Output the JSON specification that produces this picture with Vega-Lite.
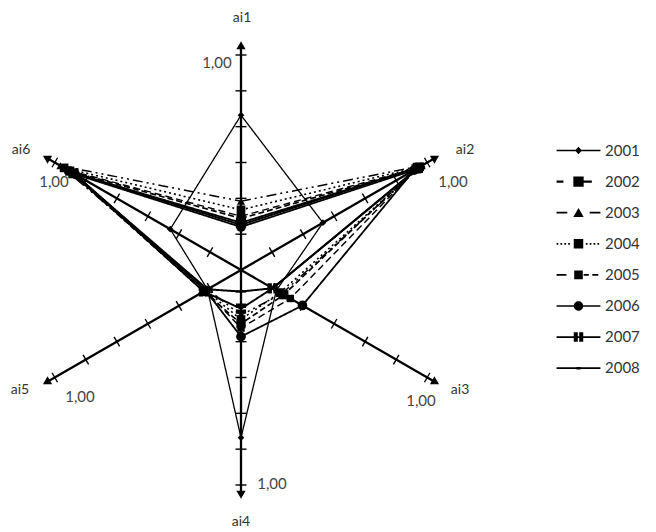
{
  "$schema": "https://vega.github.io/schema/vega-lite/v6.json",
  "width": 656,
  "height": 532,
  "autosize": "none",
  "padding": 0,
  "background": "white",
  "config": {"view": {"stroke": null}, "font": "Lato"},
  "datasets": {
    "series": [
      {"year": "2001", "axis": "ai1", "value": 0.72},
      {"year": "2001", "axis": "ai2", "value": 0.44},
      {"year": "2001", "axis": "ai3", "value": 0.19},
      {"year": "2001", "axis": "ai4", "value": 0.78},
      {"year": "2001", "axis": "ai5", "value": 0.18},
      {"year": "2001", "axis": "ai6", "value": 0.38},
      {"year": "2002", "axis": "ai1", "value": 0.25},
      {"year": "2002", "axis": "ai2", "value": 0.95},
      {"year": "2002", "axis": "ai3", "value": 0.265},
      {"year": "2002", "axis": "ai4", "value": 0.27},
      {"year": "2002", "axis": "ai5", "value": 0.19},
      {"year": "2002", "axis": "ai6", "value": 0.93},
      {"year": "2003", "axis": "ai1", "value": 0.32},
      {"year": "2003", "axis": "ai2", "value": 0.97},
      {"year": "2003", "axis": "ai3", "value": 0.22},
      {"year": "2003", "axis": "ai4", "value": 0.21},
      {"year": "2003", "axis": "ai5", "value": 0.18},
      {"year": "2003", "axis": "ai6", "value": 0.97},
      {"year": "2004", "axis": "ai1", "value": 0.28},
      {"year": "2004", "axis": "ai2", "value": 0.96},
      {"year": "2004", "axis": "ai3", "value": 0.21},
      {"year": "2004", "axis": "ai4", "value": 0.23},
      {"year": "2004", "axis": "ai5", "value": 0.19},
      {"year": "2004", "axis": "ai6", "value": 0.95},
      {"year": "2005", "axis": "ai1", "value": 0.24},
      {"year": "2005", "axis": "ai2", "value": 0.94},
      {"year": "2005", "axis": "ai3", "value": 0.23},
      {"year": "2005", "axis": "ai4", "value": 0.25},
      {"year": "2005", "axis": "ai5", "value": 0.2},
      {"year": "2005", "axis": "ai6", "value": 0.92},
      {"year": "2006", "axis": "ai1", "value": 0.2},
      {"year": "2006", "axis": "ai2", "value": 0.93},
      {"year": "2006", "axis": "ai3", "value": 0.33},
      {"year": "2006", "axis": "ai4", "value": 0.31},
      {"year": "2006", "axis": "ai5", "value": 0.19},
      {"year": "2006", "axis": "ai6", "value": 0.89},
      {"year": "2007", "axis": "ai1", "value": 0.22},
      {"year": "2007", "axis": "ai2", "value": 0.95},
      {"year": "2007", "axis": "ai3", "value": 0.17},
      {"year": "2007", "axis": "ai4", "value": 0.18},
      {"year": "2007", "axis": "ai5", "value": 0.2},
      {"year": "2007", "axis": "ai6", "value": 0.9},
      {"year": "2008", "axis": "ai1", "value": 0.21},
      {"year": "2008", "axis": "ai2", "value": 0.96},
      {"year": "2008", "axis": "ai3", "value": 0.17},
      {"year": "2008", "axis": "ai4", "value": 0.1},
      {"year": "2008", "axis": "ai5", "value": 0.18},
      {"year": "2008", "axis": "ai6", "value": 0.91}
    ],
    "axes": [
      {"axis": "ai1", "ticks": [1, 2, 3, 4, 5, 6]},
      {"axis": "ai2", "ticks": [1, 2, 3, 4, 5, 6]},
      {"axis": "ai3", "ticks": [1, 2, 3, 4, 5, 6]},
      {"axis": "ai4", "ticks": [1, 2, 3, 4, 5, 6]},
      {"axis": "ai5", "ticks": [1, 2, 3, 4, 5, 6]},
      {"axis": "ai6", "ticks": [1, 2, 3, 4, 5, 6]}
    ]
  },
  "encoding": {
    "x": {"field": "x", "type": "quantitative", "scale": {"domain": [-1.1209, 1.9302], "nice": false, "zero": false}, "axis": null},
    "y": {"field": "y", "type": "quantitative", "scale": {"domain": [-1.2186, 1.2558], "nice": false, "zero": false}, "axis": null}
  },
  "resolve": {"scale": {"shape": "independent", "size": "independent"}},
  "layer": [
    {
      "data": {"name": "axes"},
      "transform": [
        {"calculate": "indexof(['ai1','ai2','ai3','ai4','ai5','ai6'], datum.axis)", "as": "idx"},
        {"calculate": "PI/2 - datum.idx*PI/3", "as": "ang"},
        {"calculate": "0", "as": "x"},
        {"calculate": "0", "as": "y"},
        {"calculate": "1.04*cos(datum.ang)", "as": "x2"},
        {"calculate": "1.04*sin(datum.ang)", "as": "y2"}
      ],
      "mark": {"type": "rule", "color": "black", "strokeWidth": 2.3},
      "encoding": {"x2": {"field": "x2"}, "y2": {"field": "y2"}}
    },
    {
      "data": {"name": "axes"},
      "transform": [
        {"calculate": "indexof(['ai1','ai2','ai3','ai4','ai5','ai6'], datum.axis)", "as": "idx"},
        {"calculate": "PI/2 - datum.idx*PI/3", "as": "ang"},
        {"calculate": "1.045*cos(datum.ang)", "as": "x"},
        {"calculate": "1.045*sin(datum.ang)", "as": "y"},
        {"calculate": "datum.idx*60", "as": "rot"}
      ],
      "mark": {"type": "point", "shape": "triangle-up", "filled": true, "color": "black", "size": 85, "opacity": 1},
      "encoding": {"angle": {"field": "rot", "type": "quantitative", "scale": null}}
    },
    {
      "data": {"name": "axes"},
      "transform": [
        {"flatten": ["ticks"]},
        {"calculate": "indexof(['ai1','ai2','ai3','ai4','ai5','ai6'], datum.axis)", "as": "idx"},
        {"calculate": "PI/2 - datum.idx*PI/3", "as": "ang"},
        {"calculate": "datum.ticks/6*cos(datum.ang)", "as": "x"},
        {"calculate": "datum.ticks/6*sin(datum.ang)", "as": "y"},
        {"calculate": "datum.idx*60", "as": "rot"}
      ],
      "mark": {"type": "point", "shape": "M-1,0H1", "filled": false, "stroke": "black", "strokeWidth": 1.4, "size": 121, "opacity": 1},
      "encoding": {"angle": {"field": "rot", "type": "quantitative", "scale": null}}
    },
    {
      "data": {"name": "series"},
      "transform": [
        {"calculate": "indexof(['ai1','ai2','ai3','ai4','ai5','ai6'], datum.axis)", "as": "idx"},
        {"calculate": "PI/2 - datum.idx*PI/3", "as": "ang"},
        {"calculate": "datum.value*cos(datum.ang)", "as": "x"},
        {"calculate": "datum.value*sin(datum.ang)", "as": "y"}
      ],
      "mark": {"type": "line", "interpolate": "linear-closed", "color": "black"},
      "encoding": {
        "detail": {"field": "year", "type": "nominal"},
        "order": {"field": "idx", "type": "quantitative"},
        "strokeDash": {"field": "year", "type": "nominal", "legend": null,
          "scale": {"domain": ["2001", "2002", "2003", "2004", "2005", "2006", "2007", "2008"],
            "range": [[1, 0], [7, 4], [10, 4, 2, 4, 2, 4], [2, 3], [6, 3], [1, 0], [1, 0], [1, 0]]}},
        "strokeWidth": {"field": "year", "type": "ordinal", "legend": null,
          "scale": {"domain": ["2001", "2002", "2003", "2004", "2005", "2006", "2007", "2008"],
            "range": [1.3, 2, 1.7, 2.2, 2, 2.2, 2.2, 1.5]}}
      }
    },
    {
      "data": {"name": "series"},
      "transform": [
        {"calculate": "indexof(['ai1','ai2','ai3','ai4','ai5','ai6'], datum.axis)", "as": "idx"},
        {"calculate": "PI/2 - datum.idx*PI/3", "as": "ang"},
        {"calculate": "datum.value*cos(datum.ang)", "as": "x"},
        {"calculate": "datum.value*sin(datum.ang)", "as": "y"}
      ],
      "mark": {"type": "point", "filled": true, "color": "black", "opacity": 1},
      "encoding": {
        "shape": {"field": "year", "type": "nominal", "legend": null,
          "scale": {"domain": ["2001", "2002", "2003", "2004", "2005", "2006", "2007", "2008"],
            "range": ["diamond", "square", "triangle-up", "square", "square", "circle",
              "M-1,-1H-0.15V-0.15H-1ZM0.15,-1H1V-0.15H0.15ZM-1,0.15H-0.15V1H-1ZM0.15,0.15H1V1H0.15Z",
              "M-1,-0.2H1V0.2H-1Z"]}},
        "size": {"field": "year", "type": "ordinal", "legend": null,
          "scale": {"domain": ["2001", "2002", "2003", "2004", "2005", "2006", "2007", "2008"],
            "range": [45, 115, 65, 75, 60, 80, 85, 60]}}
      }
    },
    {
      "data": {"name": "series"},
      "transform": [
        {"filter": "datum.year == 'none'"},
        {"calculate": "0", "as": "x"},
        {"calculate": "0", "as": "y"}
      ],
      "mark": {"type": "point", "filled": true, "fill": "black", "size": 296, "opacity": 1},
      "encoding": {
        "shape": {"field": "year", "type": "nominal",
          "scale": {"domain": ["2001", "2002", "2003", "2004", "2005", "2006", "2007", "2008"],
            "range": [
              "M-2.55,-0.1H2.55V0.1H-2.55ZM0,-0.45L0.4,0L0,0.45L-0.4,0Z",
              "M-2.55,-0.12H-1.75V0.12H-2.55ZM-0.6,-0.6H0.6V0.6H-0.6ZM0.6,-0.12H1.55V0.12H0.6Z",
              "M-2.55,-0.1H-1.3V0.1H-2.55ZM1.3,-0.1H2.55V0.1H1.3ZM0,-0.55L0.6,0.5H-0.6Z",
              "M-2.55,-0.1H-2.35V0.1H-2.55ZM-2.1,-0.1H-1.9V0.1H-2.1ZM-1.65,-0.1H-1.45V0.1H-1.65ZM-1.2,-0.1H-1V0.1H-1.2ZM-0.55,-0.55H0.55V0.55H-0.55ZM0.85,-0.1H1.05V0.1H0.85ZM1.3,-0.1H1.5V0.1H1.3ZM1.75,-0.1H1.95V0.1H1.75ZM2.2,-0.1H2.4V0.1H2.2Z",
              "M-2.55,-0.1H-1.4V0.1H-2.55ZM-0.5,-0.5H0.5V0.5H-0.5ZM0.6,-0.1H1.2V0.1H0.6ZM1.6,-0.1H2.3V0.1H1.6Z",
              "M-2.55,-0.1H2.55V0.1H-2.55ZM-0.55,0A0.55,0.55 0 1,1 0.55,0A0.55,0.55 0 1,1 -0.55,0Z",
              "M-2.55,-0.1H2.55V0.1H-2.55ZM-0.55,-0.55H-0.08V-0.08H-0.55ZM0.08,-0.55H0.55V-0.08H0.08ZM-0.55,0.08H-0.08V0.55H-0.55ZM0.08,0.08H0.55V0.55H0.08Z",
              "M-2.55,-0.1H2.55V0.1H-2.55ZM-0.25,-0.15H0.25V0.15H-0.25Z"
            ]},
          "legend": {"title": null, "orient": "none", "legendX": 569, "legendY": 141, "padding": 0,
            "symbolSize": 296, "symbolFillColor": "black", "symbolOpacity": 1,
            "labelFont": "Lato", "labelFontSize": 15, "labelColor": "#333333", "labelOffset": 17, "rowPadding": 13.1}}
      }
    },
    {
      "data": {"name": "axes"},
      "transform": [
        {"calculate": "indexof(['ai1','ai2','ai3','ai4','ai5','ai6'], datum.axis)", "as": "idx"},
        {"calculate": "[0.005, 1.042, 1.019, 0, -1.028, -1.023][datum.idx]", "as": "x"},
        {"calculate": "[1.172, 0.558, -0.558, -1.172, -0.558, 0.558][datum.idx]", "as": "y"}
      ],
      "mark": {"type": "text", "font": "Lato", "fontSize": 14, "color": "#333333", "align": "center", "baseline": "middle"},
      "encoding": {"text": {"field": "axis"}}
    },
    {
      "data": {"name": "axes"},
      "transform": [
        {"calculate": "indexof(['ai1','ai2','ai3','ai4','ai5','ai6'], datum.axis)", "as": "idx"},
        {"calculate": "[-0.112, 0.986, 0.837, 0.144, -0.749, -0.87][datum.idx]", "as": "x"},
        {"calculate": "[0.963, 0.409, -0.609, -0.995, -0.591, 0.409][datum.idx]", "as": "y"}
      ],
      "mark": {"type": "text", "text": "1,00", "font": "Lato", "fontSize": 15, "color": "#444444", "align": "center", "baseline": "middle"}
    }
  ]
}
